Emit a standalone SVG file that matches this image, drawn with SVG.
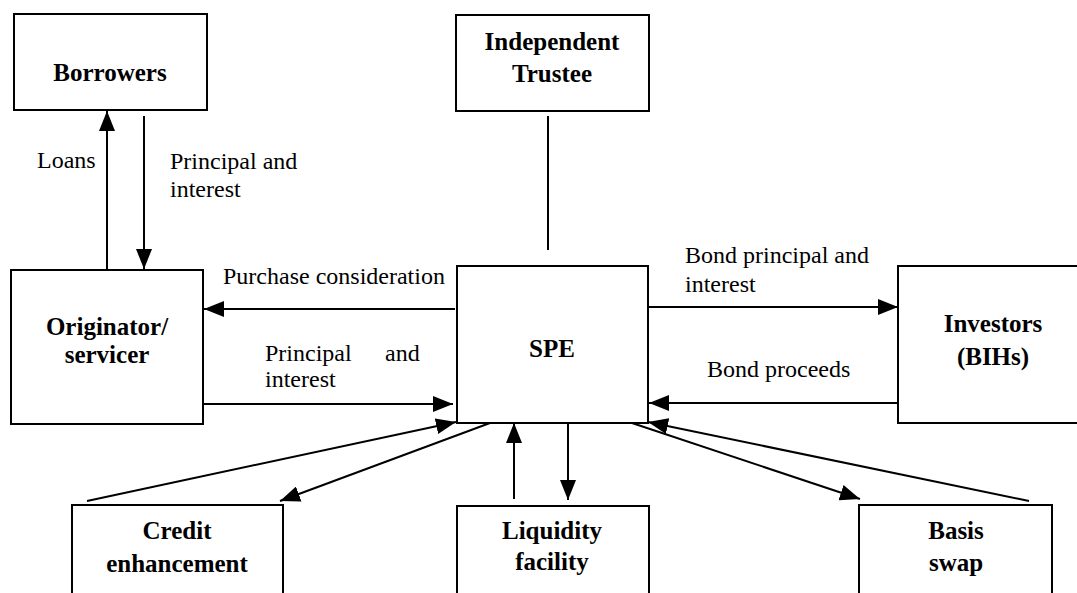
<svg xmlns="http://www.w3.org/2000/svg" width="1077" height="593" viewBox="0 0 1077 593">
<defs>
<style>
.box{fill:#fff;stroke:#000;stroke-width:2}
.t{font-family:"Liberation Serif","Times New Roman",serif;font-weight:bold;font-size:25px;text-anchor:middle;fill:#000}
.l{font-family:"Liberation Serif","Times New Roman",serif;font-size:24px;fill:#000}
.c{stroke:#000;stroke-width:2;fill:none}
</style>
<marker id="ah" viewBox="0 0 20 16" refX="20" refY="8" markerWidth="20" markerHeight="16" markerUnits="userSpaceOnUse" orient="auto">
<path d="M0,0 L20,8 L0,16 Z" fill="#000"/>
</marker>
</defs>
<rect width="1077" height="593" fill="#fff"/>
<g id="connectors">
<line class="c" x1="107" y1="269" x2="107" y2="111" marker-end="url(#ah)"/>
<line class="c" x1="144" y1="116" x2="144" y2="269" marker-end="url(#ah)"/>
<line class="c" x1="548" y1="116" x2="548" y2="250"/>
<line class="c" x1="455" y1="309" x2="204" y2="309" marker-end="url(#ah)"/>
<line class="c" x1="203" y1="404" x2="453" y2="404" marker-end="url(#ah)"/>
<line class="c" x1="649" y1="307" x2="898" y2="307" marker-end="url(#ah)"/>
<line class="c" x1="898" y1="403" x2="649" y2="403" marker-end="url(#ah)"/>
<line class="c" x1="87" y1="501" x2="456" y2="422" marker-end="url(#ah)"/>
<line class="c" x1="490" y1="423" x2="280" y2="501" marker-end="url(#ah)"/>
<line class="c" x1="514" y1="499" x2="514" y2="423" marker-end="url(#ah)"/>
<line class="c" x1="568" y1="423" x2="568" y2="500" marker-end="url(#ah)"/>
<line class="c" x1="629" y1="422" x2="860" y2="499" marker-end="url(#ah)"/>
<line class="c" x1="1029" y1="501" x2="648" y2="422" marker-end="url(#ah)"/>
<text class="l" x="37" y="168">Loans</text>
<text class="l" x="170" y="169">Principal and</text>
<text class="l" x="170" y="197">interest</text>
<text class="l" x="223" y="284">Purchase consideration</text>
<text class="l" x="265" y="361">Principal</text>
<text class="l" x="385" y="361">and</text>
<text class="l" x="265" y="387">interest</text>
<text class="l" x="685" y="263">Bond principal and</text>
<text class="l" x="685" y="292">interest</text>
<text class="l" x="707" y="377">Bond proceeds</text>
</g>
<g id="borrowers">
<rect class="box" x="14" y="14" width="193" height="96"/>
<text class="t" x="110" y="81">Borrowers</text>
</g>
<g id="trustee">
<rect class="box" x="456" y="15" width="193" height="96"/>
<text class="t" x="552" y="50">Independent</text>
<text class="t" x="552" y="82">Trustee</text>
</g>
<g id="originator">
<rect class="box" x="11" y="270" width="192" height="154"/>
<text class="t" x="107" y="335">Originator/</text>
<text class="t" x="107" y="363">servicer</text>
</g>
<g id="spe">
<rect class="box" x="457" y="266" width="191" height="157"/>
<text class="t" x="552" y="357">SPE</text>
</g>
<g id="investors">
<rect class="box" x="898" y="266" width="180" height="157"/>
<text class="t" x="993" y="332">Investors</text>
<text class="t" x="993" y="365">(BIHs)</text>
</g>
<g id="credit">
<rect class="box" x="72" y="505" width="211" height="100"/>
<text class="t" x="177" y="539">Credit</text>
<text class="t" x="177" y="572">enhancement</text>
</g>
<g id="liquidity">
<rect class="box" x="457" y="506" width="192" height="100"/>
<text class="t" x="552" y="539">Liquidity</text>
<text class="t" x="552" y="570">facility</text>
</g>
<g id="basis">
<rect class="box" x="859" y="505" width="193" height="100"/>
<text class="t" x="956" y="539">Basis</text>
<text class="t" x="956" y="571">swap</text>
</g>
</svg>
